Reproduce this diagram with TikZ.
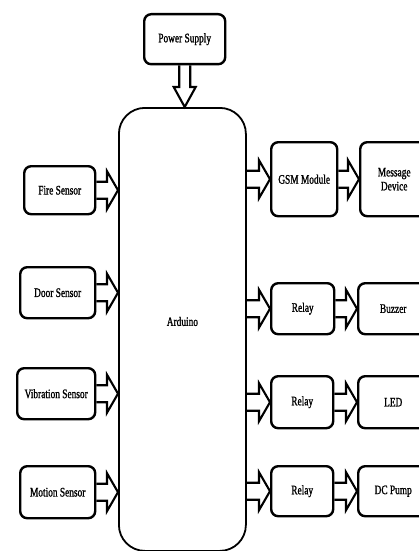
\documentclass[tikz,border=0pt]{standalone}
\usepackage{fontspec}
\setmainfont{Liberation Serif}[FakeStretch=0.72,FakeBold=1.2]
\usetikzlibrary{calc}

\begin{document}
\begin{tikzpicture}
[blockDecorate/.style={draw,line width=2.4pt,rounded corners=7pt,align=center,
   anchor=north west,inner sep=2pt,font=\fontsize{13}{14}\selectfont},%
  boardDecorate/.style={draw,line width=1.8pt,rounded corners=26pt,
   anchor=north west,font=\fontsize{13}{14}\selectfont},%
  inArrow/.style={line width=2.1pt,to path={let \p1=(\tikztostart.east),\p2=(\tikztotarget.west) in
   (\x1,\y1+8.5pt) -- (\x2-11pt,\y1+8.5pt) -- (\x2-11pt,\y1+19pt) -- (\x2,\y1)
   -- (\x2-11pt,\y1-19pt) -- (\x2-11pt,\y1-8.5pt) -- (\x1,\y1-8.5pt)}},%
  outArrow/.style={line width=2.1pt,to path={let \p1=(\tikztostart.east),\p2=(\tikztotarget.west) in
   (\x1,\y2+8.5pt) -- (\x2-11pt,\y2+8.5pt) -- (\x2-11pt,\y2+19pt) -- (\x2,\y2)
   -- (\x2-11pt,\y2-19pt) -- (\x2-11pt,\y2-8.5pt) -- (\x1,\y2-8.5pt)}},%
  downArrow/.style={line width=2.1pt,to path={let \p1=(\tikztostart.south),\p2=(\tikztotarget.north) in
   (\x1-5.5pt,\y1) -- (\x1-5.5pt,\y2+20pt) -- (\x1-11pt,\y2+20pt) -- (\x1,\y2)
   -- (\x1+11pt,\y2+20pt) -- (\x1+5.5pt,\y2+20pt) -- (\x1+5.5pt,\y1)}},%
  x=1pt,y=-1pt]
\useasboundingbox (0,0) rectangle (418,551);
%% nodes or blocks
\node (arduino) at (118,107) [boardDecorate,minimum width=127pt,minimum height=443pt] {\raisebox{16pt}{Arduino}};
\foreach \nodename/\x/\y/\w/\h/\nodetext in {power/143/13/81/50/Power Supply,
  fire/23/165/71/48/Fire Sensor, door/19/266/75/51/Door Sensor,
  vib/16/367/78/51/Vibration Sensor, motion/19/465/75/52/Motion Sensor,
  gsm/270/141/66/74/GSM Module, message/359/141/68/74/Message\\Device,
  relayA/270/282/63/51/Relay, buzzer/357/282/70/51/Buzzer,
  relayB/270/375/62/52/Relay, led/357/375/70/52/LED,
  relayC/270/465/62/50/Relay, pump/357/465/70/50/DC Pump}
{
  \node (\nodename) at (\x,\y) [blockDecorate,minimum width=\w pt,minimum height=\h pt] {\nodetext};
}
%% block arrows
\path (power) edge[downArrow] (arduino);
\foreach \startnode in {fire, door, vib, motion}
{
  \path (\startnode) edge[inArrow] (arduino);
}
\foreach \startnode/\endnode in {arduino/gsm, arduino/relayA, arduino/relayB, arduino/relayC,
  gsm/message, relayA/buzzer, relayB/led, relayC/pump}
{
  \path (\startnode) edge[outArrow] (\endnode);
}
\end{tikzpicture}
\end{document}
